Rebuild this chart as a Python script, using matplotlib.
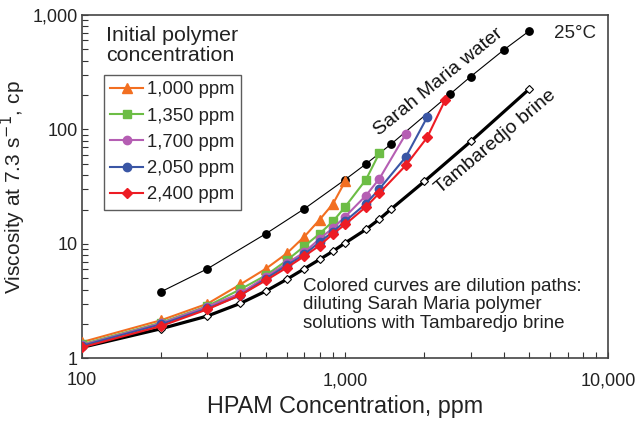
import matplotlib
matplotlib.use('Agg')
import matplotlib.pyplot as plt
from matplotlib.ticker import FixedLocator, FixedFormatter, LogLocator, NullFormatter

plt.rcParams['font.family'] = ['Liberation Sans', 'DejaVu Sans']

# Sarah Maria water (undiluted polymer solutions)
sm_conc = [200, 300, 500, 700, 1000, 1200, 1500, 2500, 3000, 4000, 5000]
sm_visc = [3.83, 6.08, 12.3, 20.3, 36.5, 50, 75, 203, 290, 494, 724]

# Tambaredjo brine
tb_conc = [100, 200, 300, 400, 500, 600, 700, 800, 900, 1000, 1200, 1350, 1500, 2000, 3000, 5000]
tb_visc = [1.25, 1.82, 2.35, 3.03, 3.88, 4.91, 6.08, 7.33, 8.66, 10.2, 13.4, 16.5, 20.3, 35.2, 78.6, 225]

# dilution paths
c1000 = [1000, 900, 800, 700, 600, 500, 400, 300, 200, 100]
v1000 = [35.2, 22.5, 16.3, 11.6, 8.27, 6.08, 4.44, 3.01, 2.16, 1.39]

c1350 = [1350, 1200, 1000, 900, 800, 700, 600, 500, 400, 300, 200, 100]
v1350 = [62.3, 36.5, 21.1, 15.8, 12.3, 9.57, 7.18, 5.32, 4.02, 2.87, 2.06, 1.33]

c1700 = [1700, 1350, 1200, 1000, 900, 800, 700, 600, 500, 400, 300, 200, 100]
v1700 = [91.2, 37.2, 26.5, 17.3, 13.8, 11.1, 8.48, 6.76, 5.16, 3.71, 2.84, 2.03, 1.31]

c2050 = [2050, 1700, 1350, 1200, 1000, 900, 800, 700, 600, 500, 400, 300, 200, 100]
v2050 = [128, 57.5, 30.3, 22.5, 15.8, 12.8, 10.4, 8.1, 6.5, 4.98, 3.56, 2.74, 1.99, 1.29]

c2400 = [2400, 2050, 1700, 1350, 1200, 1000, 900, 800, 700, 600, 500, 400, 300, 200, 100]
v2400 = [181, 85.2, 48.6, 27.9, 21.1, 14.8, 12.3, 9.7, 7.83, 6.21, 4.81, 3.58, 2.69, 1.92, 1.25]

fig = plt.figure(figsize=(6.4, 4.25), dpi=100)
ax = fig.add_axes([0.128, 0.1565, 0.8225, 0.8082])

ax.plot(tb_conc, tb_visc, color='black', lw=2.3, marker='D', ms=4,
        mfc='white', mec='black', mew=0.8, zorder=2)
ax.plot(sm_conc, sm_visc, color='black', lw=0.8, marker='o', ms=5.3, zorder=2)

paths = [
    (c1000, v1000, '#f26f21', '^', 6.8, '1,000 ppm'),
    (c1350, v1350, '#6cbd45', 's', 5.8, '1,350 ppm'),
    (c1700, v1700, '#b55eb3', 'o', 6.0, '1,700 ppm'),
    (c2050, v2050, '#3a56a5', 'o', 6.0, '2,050 ppm'),
    (c2400, v2400, '#ed1c24', 'D', 5.0, '2,400 ppm'),
]
for c, v, col, mk, ms, lab in paths:
    ax.plot(c, v, color=col, lw=1.5, marker=mk, ms=ms, label=lab, zorder=3)

ax.set_xscale('log')
ax.set_yscale('log')
ax.set_xlim(100, 10000)
ax.set_ylim(1, 1000)

ax.xaxis.set_major_locator(FixedLocator([100, 1000, 10000]))
ax.xaxis.set_major_formatter(FixedFormatter(['100', '1,000', '10,000']))
ax.yaxis.set_major_locator(FixedLocator([1, 10, 100, 1000]))
ax.yaxis.set_major_formatter(FixedFormatter(['1', '10', '100', '1,000']))
ax.xaxis.set_minor_locator(LogLocator(base=10, subs=range(2, 10)))
ax.yaxis.set_minor_locator(LogLocator(base=10, subs=range(2, 10)))
ax.xaxis.set_minor_formatter(NullFormatter())
ax.yaxis.set_minor_formatter(NullFormatter())
ax.tick_params(which='both', direction='in', length=4, width=0.8, color='#333333')
ax.tick_params(axis='both', which='major', labelsize=13, labelcolor='#222222')
ax.tick_params(axis='x', which='major', pad=10)
ax.tick_params(axis='y', which='major', pad=3)
for s in ax.spines.values():
    s.set_color('#444444')
    s.set_linewidth(1.2)

ax.set_xlabel('HPAM Concentration, ppm', fontsize=16.8, color='#222222')
ax.set_ylabel('Viscosity at 7.3 s$^{-1}$, cp', fontsize=15, color='#222222')
ax.xaxis.set_label_coords(0.5, -0.105)
ax.yaxis.set_label_coords(-0.103, 0.5)

leg = ax.legend(loc='upper left', fontsize=13.3, frameon=True, fancybox=False,
                handlelength=1.75, borderpad=0.35, labelspacing=0.5,
                handletextpad=0.25, borderaxespad=0)
leg.set_bbox_to_anchor((104 / 640, 1 - 75 / 425), transform=fig.transFigure)
leg.get_frame().set_edgecolor('#333333')
leg.get_frame().set_linewidth(1.0)
for t in leg.get_texts():
    t.set_color('#222222')

fig.text(106 / 640, 1 - 26 / 425, 'Initial polymer\nconcentration', fontsize=15.4,
         color='#222222', va='top', ha='left', linespacing=1.05)

ax.text(0.937, 0.947, '25°C', transform=ax.transAxes, fontsize=13.5, color='#222222',
        ha='center', va='center')
ax.text(0.677, 0.805, 'Sarah Maria water', transform=ax.transAxes, fontsize=14,
        rotation=39, ha='center', va='center', color='#111111')
ax.text(0.785, 0.63, 'Tambaredjo brine', transform=ax.transAxes, fontsize=14,
        rotation=40, ha='center', va='center', color='#111111')
ax.text(0.42, 0.234, 'Colored curves are dilution paths:\ndiluting Sarah Maria polymer\nsolutions with Tambaredjo brine',
        transform=ax.transAxes, fontsize=13.5, color='#222222', ha='left', va='top',
        linespacing=1.1)

fig.savefig('out.png', dpi=100)
